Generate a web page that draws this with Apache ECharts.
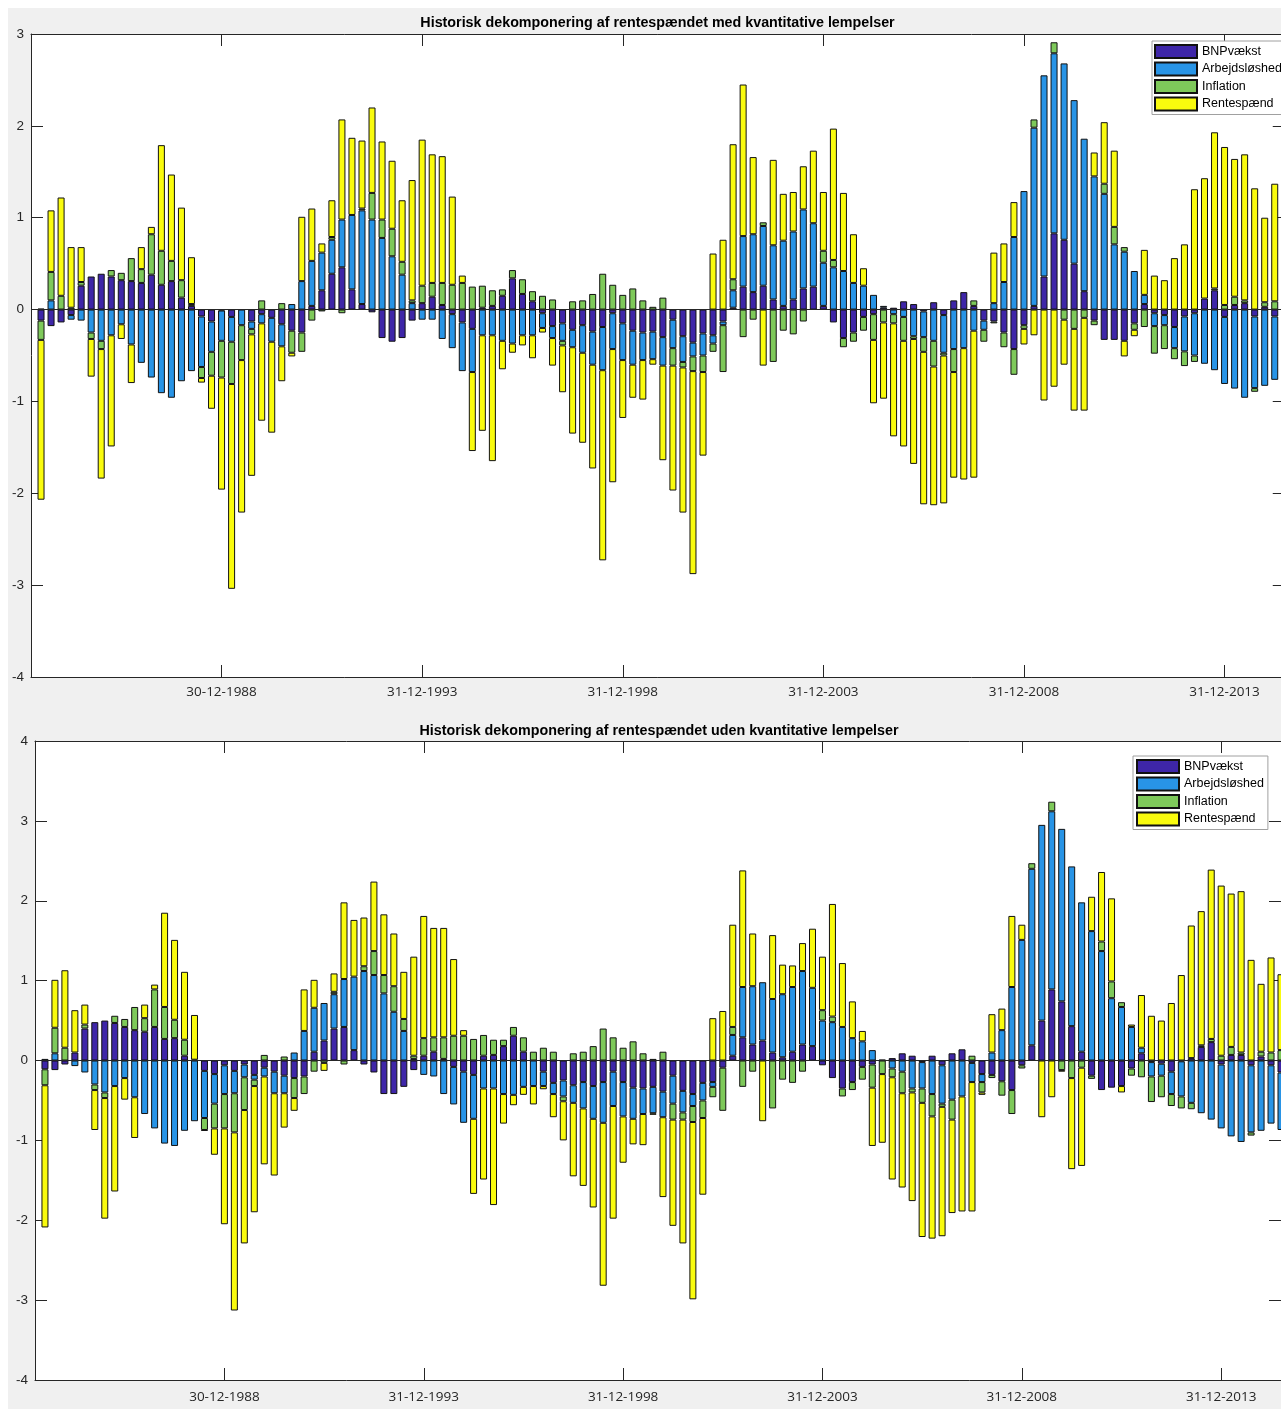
<!DOCTYPE html>
<html><head><meta charset="utf-8">
<script src="https://cdn.jsdelivr.net/npm/echarts@6/dist/echarts.min.js"></script>
<style>html,body{margin:0;padding:0;overflow:hidden;background:#fff}
#c{width:1290px;height:1409px}</style></head>
<body><div id="c"></div>
<script>
// Series names and colours
const seriesNames = ['BNPvækst','Arbejdsløshed','Inflation','Rentespænd'];
const seriesColors = ['#3e26a8','#2894e6','#7ec95a','#f9fb0e'];
const titleMed = 'Historisk dekomponering af rentespændet med kvantitative lempelser';
const titleUden = 'Historisk dekomponering af rentespændet uden kvantitative lempelser';

// Quarters 1984Q2 .. 2015Q2 (index 0..124); tick label positions (quarter index) and labels
const firstYear = 1984, firstQuarter = 2, nQuarters = 125;
const tickIdx = [18, 38, 58, 78, 98, 118];
const tickLabels = ['30-12-1988','31-12-1993','31-12-1998','31-12-2003','31-12-2008','31-12-2013'];

// Panel 1: med kvantitative lempelser
const medBNP = [-0.12,-0.18,-0.14,-0.06,0.26,0.36,0.39,0.36,0.32,0.31,0.29,0.38,0.27,0.31,0.13,0.04,-0.075,-0.13,-0.01,-0.08,
0,-0.13,-0.05,-0.09,-0.16,-0.23,-0.25,0.04,0.21,0.39,0.46,0.22,0.06,-0.03,-0.31,-0.35,-0.31,-0.12,0.07,0.14,
0.05,-0.05,-0.14,-0.21,0.02,0.04,0.15,0.34,0.17,0.09,-0.04,-0.18,-0.15,-0.22,-0.17,-0.24,-0.19,-0.04,-0.15,-0.23,
-0.25,-0.24,-0.30,-0.11,-0.29,-0.36,-0.26,-0.28,-0.13,0.02,0.25,0.19,0.26,0.11,0.04,0.11,0.23,0.25,0.04,-0.14,
-0.31,-0.25,-0.08,-0.05,0.02,0.02,0.09,0.06,-0.02,0.08,-0.06,0.10,0.19,0.04,-0.12,-0.13,-0.25,-0.43,-0.17,0.04,
0.36,0.83,0.76,0.50,0.20,-0.12,-0.33,-0.33,-0.34,-0.15,0.06,-0.04,-0.06,-0.19,-0.075,-0.04,0.12,0.21,-0.08,0.05,
0.07,-0.075,0.03,-0.075,-0.08];
const medArb = [0.01,0.10,0,-0.05,-0.12,-0.25,-0.34,-0.28,-0.16,-0.38,-0.58,-0.74,-0.91,-0.96,-0.78,-0.67,-0.55,-0.33,-0.33,-0.27,
-0.17,-0.08,-0.10,-0.26,-0.24,0.06,0.31,0.49,0.41,0.37,0.52,0.81,1.02,0.98,0.78,0.58,0.38,0.07,-0.11,-0.11,
-0.32,-0.37,-0.53,-0.47,-0.28,-0.28,-0.34,-0.37,-0.28,-0.28,-0.16,-0.13,-0.19,-0.19,-0.30,-0.36,-0.47,-0.39,-0.40,-0.37,
-0.30,-0.30,-0.31,-0.31,-0.28,-0.15,-0.24,-0.09,-0.04,0.19,0.55,0.63,0.65,0.59,0.71,0.74,0.86,0.69,0.47,0.46,
0.42,0.29,0.26,0.16,0.02,-0.05,-0.08,-0.29,-0.28,-0.34,-0.41,-0.43,-0.42,-0.23,-0.10,0.07,0.30,0.79,1.29,1.94,
2.19,1.96,1.92,1.78,1.66,1.45,1.26,0.71,0.63,0.42,0.10,-0.14,-0.11,-0.23,-0.38,-0.46,-0.59,-0.66,-0.73,-0.86,
-0.96,-0.78,-0.83,-0.69,-0.75];
const medInfl = [-0.21,0.31,0.15,0.02,0.04,-0.07,-0.09,0.07,0.08,0.25,0.15,0.44,0.37,0.22,0.19,0.02,-0.12,-0.26,-0.40,-0.46,
-0.38,-0.06,0.10,0,0.07,-0.24,-0.21,-0.12,-0.02,0.03,-0.04,0,0.02,0.29,0.20,0.30,0.14,0.03,0.19,0.15,
0.24,0.27,0.29,0.25,0.24,0.17,0.07,0.09,0.16,0.11,0.15,0.11,-0.05,0.09,0.10,0.17,0.39,0.27,0.16,0.23,
0.10,0.03,0.13,-0.19,-0.06,-0.16,-0.18,-0.09,-0.51,0.12,-0.30,-0.11,0.04,-0.57,-0.23,-0.27,-0.13,0,0.13,0.08,
-0.10,-0.10,-0.15,-0.28,-0.14,-0.10,-0.26,-0.03,-0.16,-0.28,-0.03,-0.25,0,0.06,-0.13,-0.02,-0.16,-0.28,-0.04,0.09,
0,0.12,-0.11,-0.21,-0.09,-0.05,0.11,0.19,0.05,-0.07,-0.19,-0.30,-0.26,-0.12,-0.16,-0.07,0,0.02,0.05,0.09,
0.03,-0.04,0.05,0.09,0.05];
const medRente = [-1.74,0.67,1.07,0.66,0.38,-0.41,-1.41,-1.21,-0.16,-0.42,0.24,0.08,1.15,0.94,0.79,0.51,-0.05,-0.36,-1.22,-2.23,
-1.66,-1.54,-1.06,-0.99,-0.38,-0.04,0.70,0.57,0.10,0.40,1.09,0.84,0.74,0.93,0.85,0.74,0.67,1.31,1.59,1.40,
1.38,0.96,0.08,-0.86,-1.04,-1.37,-0.31,-0.10,-0.11,-0.25,-0.05,-0.30,-0.51,-0.94,-0.98,-1.13,-2.07,-1.45,-0.63,-0.36,
-0.43,-0.06,-1.03,-1.36,-1.58,-2.21,-0.91,0.61,0.76,1.47,1.65,0.84,-0.61,0.93,0.51,0.43,0.47,0.79,0.64,1.43,
0.85,0.53,0.19,-0.69,-0.83,-1.23,-1.15,-1.36,-1.66,-1.51,-1.61,-1.15,-1.43,-1.60,0,0.55,0.42,0.38,-0.17,-0.28,
-0.99,-0.84,-0.49,-0.89,-1.01,0.26,0.67,0.83,-0.17,-0.07,0.49,0.37,0.32,0.56,0.71,1.31,1.31,1.70,1.72,1.50,
1.59,1.32,0.92,1.28,1.10];

// Panel 2: uden kvantitative lempelser
const udenBNP = [-0.11,-0.12,-0.05,0.10,0.40,0.48,0.50,0.47,0.42,0.38,0.36,0.42,0.27,0.28,0.06,0.01,-0.13,-0.17,-0.06,-0.13,
-0.05,-0.18,-0.09,-0.14,-0.19,-0.22,-0.20,0.11,0.25,0.40,0.42,0.13,-0.05,-0.15,-0.42,-0.42,-0.33,-0.12,0.06,0.11,
0.02,-0.08,-0.14,-0.18,0.06,0.07,0.18,0.31,0.11,0,-0.14,-0.28,-0.25,-0.31,-0.27,-0.32,-0.27,-0.14,-0.27,-0.34,
-0.35,-0.33,-0.39,-0.19,-0.38,-0.42,-0.28,-0.27,-0.09,0.06,0.29,0.20,0.25,0.10,0.04,0.11,0.20,0.18,-0.06,-0.22,
-0.35,-0.27,-0.08,-0.05,0.01,0.03,0.09,0.06,-0.02,0.06,-0.06,0.09,0.14,-0.03,-0.17,-0.18,-0.26,-0.37,-0.06,0.19,
0.50,0.89,0.74,0.43,0.11,-0.19,-0.37,-0.34,-0.32,-0.10,0.09,-0.02,-0.04,-0.14,-0.01,0.03,0.17,0.23,-0.05,0.07,
0.07,-0.06,0.05,-0.06,-0.15];
const udenArb = [0.02,0.09,0,-0.07,-0.15,-0.30,-0.40,-0.32,-0.22,-0.46,-0.67,-0.85,-1.04,-1.07,-0.88,-0.76,-0.59,-0.37,-0.36,-0.28,
-0.16,-0.06,-0.11,-0.27,-0.22,0.10,0.37,0.55,0.47,0.43,0.60,0.92,1.12,1.07,0.84,0.61,0.37,0.02,-0.18,-0.20,
-0.42,-0.47,-0.64,-0.55,-0.35,-0.35,-0.42,-0.43,-0.33,-0.32,-0.18,-0.14,-0.20,-0.22,-0.33,-0.41,-0.51,-0.43,-0.43,-0.39,
-0.32,-0.33,-0.32,-0.35,-0.27,-0.15,-0.22,-0.06,0,0.26,0.63,0.73,0.73,0.67,0.79,0.81,0.92,0.73,0.50,0.48,
0.42,0.28,0.24,0.13,0,-0.10,-0.14,-0.35,-0.33,-0.42,-0.48,-0.49,-0.45,-0.24,-0.10,0.10,0.38,0.92,1.51,2.21,
2.45,2.23,2.16,2.00,1.87,1.62,1.37,0.78,0.67,0.42,0.07,-0.18,-0.15,-0.28,-0.44,-0.53,-0.66,-0.74,-0.80,-0.95,
-1.02,-0.84,-0.88,-0.73,-0.72];
const udenInfl = [-0.20,0.32,0.16,0,0.05,-0.07,-0.07,0.09,0.10,0.29,0.17,0.47,0.40,0.23,0.20,0,-0.15,-0.31,-0.43,-0.49,
-0.41,-0.08,0.07,0,0.05,-0.25,-0.22,-0.14,-0.03,0.03,-0.05,0,0.06,0.30,0.23,0.32,0.15,0.04,0.22,0.18,
0.27,0.31,0.31,0.27,0.26,0.19,0.08,0.11,0.18,0.11,0.16,0.11,-0.06,0.09,0.11,0.18,0.40,0.29,0.16,0.24,
0.09,0.02,0.11,-0.20,-0.09,-0.20,-0.22,-0.13,-0.54,0.10,-0.33,-0.14,0,-0.60,-0.24,-0.28,-0.14,0,0.13,0.07,
-0.10,-0.10,-0.16,-0.29,-0.17,-0.11,-0.27,-0.05,-0.18,-0.28,-0.04,-0.25,0,0.06,-0.13,-0.04,-0.18,-0.30,-0.04,0.07,
0,0.12,-0.12,-0.22,-0.09,-0.04,0.12,0.21,0.06,-0.09,-0.21,-0.32,-0.27,-0.15,-0.15,-0.08,0.02,0.04,0.06,0.10,
0.03,-0.04,0.06,0.10,0.13];
const udenRente = [-1.78,0.60,0.97,0.53,0.25,-0.50,-1.51,-1.32,-0.27,-0.51,0.17,0.06,1.18,1.00,0.85,0.56,-0.01,-0.33,-1.20,-2.23,
-1.67,-1.58,-1.10,-1.03,-0.43,-0.16,0.52,0.35,-0.10,0.23,0.96,0.71,0.61,0.87,0.76,0.66,0.59,1.24,1.53,1.37,
1.37,0.96,0.07,-0.94,-1.14,-1.46,-0.37,-0.13,-0.10,-0.23,-0.04,-0.29,-0.49,-0.92,-0.97,-1.11,-2.04,-1.41,-0.58,-0.32,
-0.39,-0.02,-1.00,-1.33,-1.55,-2.22,-0.96,0.53,0.62,1.28,1.46,0.66,-0.76,0.80,0.37,0.27,0.35,0.74,0.67,1.41,
0.80,0.46,0.13,-0.73,-0.86,-1.28,-1.18,-1.36,-1.68,-1.53,-1.62,-1.17,-1.44,-1.62,-0.03,0.48,0.27,0.89,0.19,0,
-0.71,-0.46,-0.02,-1.14,-1.23,0.43,0.87,1.04,-0.08,0.03,0.66,0.56,0.50,0.72,1.07,1.66,1.68,2.12,2.13,1.92,
2.02,1.26,0.85,1.19,0.95];

const medSeries = [medBNP, medArb, medInfl, medRente];
const udenSeries = [udenBNP, udenArb, udenInfl, udenRente];

// Category axis: one empty leading slot, then the quarters (boundaryGap false)
const quarters = [''];
for (let i = 0; i < nQuarters; i++) {
  const q = firstQuarter - 1 + i;
  quarters.push((firstYear + Math.floor(q / 4)) + 'Q' + (q % 4 + 1));
}
const tickSet = {};
tickIdx.forEach((t, k) => { tickSet[t + 1] = tickLabels[k]; });

const AX = '#262626';
const LABEL_FONT = '"Liberation Sans", Arial, sans-serif';

function toData(arr){ return ['-'].concat(arr.map(v => v === 0 ? '-' : v)); }
const isTick = (idx) => tickSet[idx] !== undefined;

function xAxes(grid, labelMargin){
  const base = {type:'category', gridIndex:grid, data:quarters, boundaryGap:false,
    axisLine:{show:true, onZero:false, lineStyle:{color:AX, width:1}},
    axisTick:{show:true, inside:true, length:12, interval:(i)=>isTick(i), lineStyle:{color:AX}},
    splitLine:{show:false}};
  return [
    Object.assign({}, base, {position:'bottom',
      axisLabel:{show:true, interval:(i)=>isTick(i), formatter:(v, i)=>tickSet[i] || '', margin:labelMargin,
        fontFamily:'"Open Sans", sans-serif', fontSize:13.5, color:AX}}),
    Object.assign({}, base, {position:'top', axisLabel:{show:false}})
  ];
}
function yAxes(grid, min, max){
  const base = {type:'value', gridIndex:grid, min:min, max:max, interval:1,
    axisLine:{show:true, onZero:false, lineStyle:{color:AX, width:1}},
    axisTick:{show:true, inside:true, length:12, lineStyle:{color:AX}},
    splitLine:{show:false}};
  return [
    Object.assign({}, base, {position:'left',
      axisLabel:{show:true, margin:7, fontFamily:LABEL_FONT, fontSize:13.5, color:AX,
        showMinLabel:true, showMaxLabel:true}}),
    Object.assign({}, base, {position:'right', axisLabel:{show:false}})
  ];
}

function panelSeries(arrs, xi, yi, stackName){
  return arrs.map((arr, k)=>{
    const s = {type:'bar', name:seriesNames[k], xAxisIndex:xi, yAxisIndex:yi,
      stack:stackName, stackStrategy:'samesign', barWidth:7, data:toData(arr),
      itemStyle:{color:seriesColors[k], borderColor:'#111', borderWidth:1},
      emphasis:{disabled:true}};
    if (k===3) {
      s.markLine = {silent:true, symbol:['none','none'], label:{show:false},
        lineStyle:{color:AX, width:1, type:'solid'}, data:[{yAxis:0}], animation:false};
    }
    return s;
  });
}

const chart = echarts.init(document.getElementById('c'), null, {renderer:'canvas'});
const legendBase = {orient:'vertical', icon:'rect', itemWidth:42, itemHeight:13, itemGap:2.5,
  backgroundColor:'#fff', borderColor:'#a0a0a0', borderWidth:1, selectedMode:false,
  textStyle:{fontFamily:LABEL_FONT, fontSize:12.5, lineHeight:13, color:'#000'}, data:seriesNames};

chart.setOption({
  animation:false,
  backgroundColor:'#f0f0f0',
  grid:[
    {left:31, top:34, width:1253.75, height:643, show:true, backgroundColor:'#fff', borderWidth:0},
    {left:35, top:741, width:1246, height:639, show:true, backgroundColor:'#fff', borderWidth:0}
  ],
  xAxis: xAxes(0, 8).concat(xAxes(1, 10)),
  yAxis: yAxes(0, -4, 3).concat(yAxes(1, -4, 4)),
  legend:[
    Object.assign({}, legendBase, {left:1152, top:41, padding:[3,10,3,2]}),
    Object.assign({}, legendBase, {left:1133, top:756, padding:[3,4,3,3]})
  ],
  graphic:[
    {type:'rect', shape:{x:0,y:0,width:1290,height:8}, style:{fill:'#fff'}, silent:true},
    {type:'rect', shape:{x:0,y:0,width:8,height:1409}, style:{fill:'#fff'}, silent:true},
    {type:'text', x:657.5, y:23, silent:true, style:{text:titleMed, align:'center', verticalAlign:'middle',
      font:'bold 14.3px "Liberation Sans", Arial, sans-serif', fill:'#000'}},
    {type:'text', x:659, y:731, silent:true, style:{text:titleUden, align:'center', verticalAlign:'middle',
      font:'bold 14.3px "Liberation Sans", Arial, sans-serif', fill:'#000'}}
  ],
  series: panelSeries(medSeries, 0, 0, 'med').concat(panelSeries(udenSeries, 2, 2, 'uden'))
});
</script></body></html>
